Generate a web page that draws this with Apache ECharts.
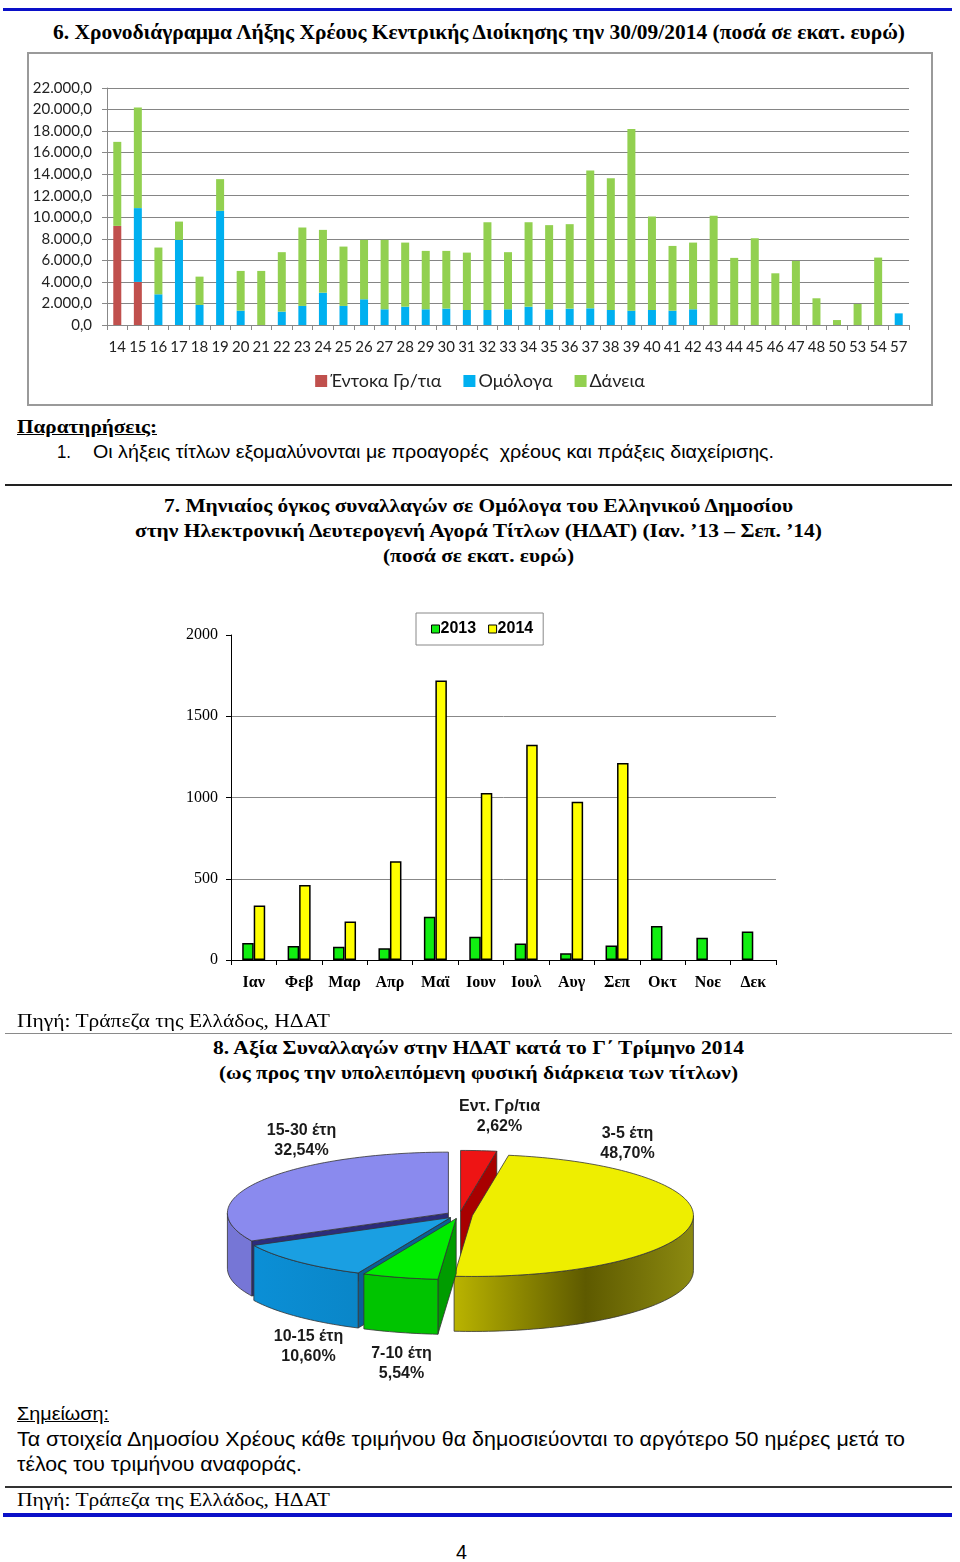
<!DOCTYPE html>
<html>
<head>
<meta charset="utf-8">
<script src="https://cdn.jsdelivr.net/npm/echarts@6.0.0/dist/echarts.min.js"></script>
<style>
body{margin:0;width:960px;height:1562px;position:relative;background:#fff;overflow:hidden}
.t{position:absolute;white-space:nowrap;transform-origin:0 50%;line-height:24px;height:24px;color:#000}
.serif{font-family:"Liberation Serif","DejaVu Serif",serif}
.sans{font-family:"Liberation Sans Narrow","Liberation Sans",Arial,sans-serif}
.b{font-weight:bold}
.u{text-decoration:underline}
.rule{position:absolute}
.chart{position:absolute;left:0;width:960px}
</style>
</head>
<body>

<div class="rule" style="left:3px;top:8px;width:949px;height:3px;background:#0a10c8"></div>
<div class="t serif b" data-x="53" data-y="32" data-w="852" style="font-size:20px">6. Χρονοδιάγραμμα Λήξης Χρέους Κεντρικής Διοίκησης την 30/09/2014 (ποσά σε εκατ. ευρώ)</div>
<div class="rule" style="left:27px;top:52px;width:906px;height:354px;border:2px solid #9a9a9a;box-sizing:border-box"></div>
<div id="chart1" class="chart" style="top:50px;height:360px"></div>

<div class="t serif b u" data-x="17" data-y="427" data-w="140" style="font-size:19px">Παρατηρήσεις:</div>
<div class="t sans" data-x="57" data-y="452" data-w="14" style="font-size:18px">1.</div>
<div class="t sans" data-x="93" data-y="452" data-w="681" style="font-size:18px">Οι λήξεις τίτλων εξομαλύνονται με προαγορές&nbsp; χρέους και πράξεις διαχείρισης.</div>
<div class="rule" style="left:5px;top:484px;width:947px;height:2px;background:#222"></div>

<div class="t serif b" data-x="164" data-y="506" data-w="629" style="font-size:19px">7. Μηνιαίος όγκος συναλλαγών σε Ομόλογα του Ελληνικού Δημοσίου</div>
<div class="t serif b" data-x="135" data-y="531" data-w="687" style="font-size:19px">στην Ηλεκτρονική Δευτερογενή Αγορά Τίτλων (ΗΔΑΤ) (Ιαν. ’13 – Σεπ. ’14)</div>
<div class="t serif b" data-x="383" data-y="556" data-w="191" style="font-size:19px">(ποσά σε εκατ. ευρώ)</div>
<div id="chart2" class="chart" style="top:600px;height:410px"></div>

<div class="t serif" data-x="17" data-y="1021" data-w="313" style="font-size:19px">Πηγή: Τράπεζα της Ελλάδος, ΗΔΑΤ</div>
<div class="rule" style="left:5px;top:1033px;width:947px;height:1px;background:#8a8a8a"></div>
<div class="t serif b" data-x="213" data-y="1048" data-w="531" style="font-size:19px">8. Αξία Συναλλαγών στην ΗΔΑΤ κατά το Γ΄ Τρίμηνο 2014</div>
<div class="t serif b" data-x="219" data-y="1073" data-w="519" style="font-size:19px">(ως προς την υπολειπόμενη φυσική διάρκεια των τίτλων)</div>
<div id="chart3" class="chart" style="top:1090px;height:300px"></div>

<div class="t sans u" data-x="17" data-y="1414" data-w="92" style="font-size:19px">Σημείωση:</div>
<div class="t sans" data-x="17" data-y="1439" data-w="888" style="font-size:21px">Τα στοιχεία Δημοσίου Χρέους κάθε τριμήνου θα δημοσιεύονται το αργότερο 50 ημέρες μετά το</div>
<div class="t sans" data-x="17" data-y="1464" data-w="285" style="font-size:21px">τέλος του τριμήνου αναφοράς.</div>
<div class="rule" style="left:5px;top:1486px;width:947px;height:2px;background:#333"></div>
<div class="t serif" data-x="17" data-y="1500" data-w="313" style="font-size:19px">Πηγή: Τράπεζα της Ελλάδος, ΗΔΑΤ</div>
<div class="rule" style="left:3px;top:1513px;width:949px;height:4px;background:#0a10c8"></div>
<div class="t sans" data-x="456" data-y="1552" data-w="11" style="font-size:21px">4</div>

<script>
// ---- Διάγραμμα 6: λήξεις χρέους ανά έτος (εκατ. ευρώ) ----
var maturityYears = ['14','15','16','17','18','19','20','21','22','23','24','25','26','27','28','29','30','31','32','33',
    '34','35','36','37','38','39','40','41','42','43','44','45','46','47','48','50','53','54','57'];
var entokaVals = [9200,4000,0,0,0,0,0,0,0,0,0,0,0,0,0,0,0,0,0,0,
    0,0,0,0,0,0,0,0,0,0,0,0,0,0,0,0,0,0,0];
var omologaVals = [0,6850,2850,7900,1860,10600,1330,0,1240,1770,3000,1770,2390,1460,1700,1460,1520,1390,1390,1460,
    1700,1460,1520,1550,1390,1330,1390,1330,1460,0,0,0,0,0,0,0,0,0,1080];
var daneiaVals = [7800,9350,4340,1700,2630,2940,3690,5020,5520,7280,5830,5510,5510,6440,5950,5420,5360,5330,8150,5300,
    7840,7810,7840,12800,12240,16860,8680,6010,6190,10130,6230,8060,4800,5950,2480,460,1950,6260,0];
var debtNames = ['Έντοκα Γρ/τια', 'Ομόλογα', 'Δάνεια'];

// ---- Διάγραμμα 7: μηνιαίος όγκος ΗΔΑΤ ----
var months = ['Ιαν','Φεβ','Μαρ','Απρ','Μαϊ','Ιουν','Ιουλ','Αυγ','Σεπ','Οκτ','Νοε','Δεκ'];
var vol2013 = [105, 86, 82, 72, 266, 143, 102, 41, 90, 209, 137, 176];
var vol2014 = [336, 461, 237, 608, 1720, 1028, 1324, 974, 1212, null, null, null];

// ---- Διάγραμμα 8: αξία συναλλαγών Γ΄ τριμήνου ----
var pieNames = ['Εντ. Γρ/τια', '3-5 έτη', '7-10 έτη', '10-15 έτη', '15-30 έτη'];
var pieShares = [2.62, 48.70, 5.54, 10.60, 32.54];

// θέσεις ετικετών (σε σχέση με το κέντρο της πίτας)
var pieLabelOffsets = [[40, -98], [168, -71], [-58, 149], [-151, 132], [-158, -74]];

function grNum(v) {
    var s = v.toFixed(1).split('.');
    return s[0].replace(/\B(?=(\d{3})+(?!\d))/g, '.') + ',' + s[1];
}

var calibri = 'Lato, "Open Sans", sans-serif';

var option1 = {
    animation: false,
    grid: { left: 107, right: 51, top: 38, bottom: 85 },
    legend: {
        top: 317, left: 'center', icon: 'rect', itemWidth: 12, itemHeight: 12, itemGap: 22,
        textStyle: { fontFamily: calibri, fontSize: 18, color: '#222', padding: [0, 0, 0, -2] },
        data: debtNames
    },
    xAxis: {
        type: 'category', data: maturityYears,
        axisLine: { lineStyle: { color: '#888', width: 1 } },
        axisTick: { show: true, length: 5, lineStyle: { color: '#888' } },
        axisLabel: { interval: 0, margin: 15, fontFamily: calibri, fontSize: 15, color: '#222' }
    },
    yAxis: {
        type: 'value', min: 0, max: 22000, interval: 2000,
        axisLine: { show: true, lineStyle: { color: '#888' } },
        axisTick: { show: true, length: 5, lineStyle: { color: '#888' } },
        axisLabel: { margin: 15, fontFamily: calibri, fontSize: 15, color: '#222', formatter: grNum },
        splitLine: { lineStyle: { color: '#858585', width: 1 } }
    },
    series: [
        { name: debtNames[0], type: 'bar', stack: 'd', barWidth: 8, data: entokaVals, itemStyle: { color: '#c0504d' } },
        { name: debtNames[1], type: 'bar', stack: 'd', barWidth: 8, data: omologaVals, itemStyle: { color: '#00b0f0' } },
        { name: debtNames[2], type: 'bar', stack: 'd', barWidth: 8, data: daneiaVals, itemStyle: { color: '#92d050' } }
    ]
};

var times = '"Liberation Serif", "DejaVu Serif", serif';
var option2 = {
    animation: false,
    grid: { left: 231, right: 184, top: 35, bottom: 50 },
    legend: {
        left: 416, top: 13, padding: [8, 10, 8, 15], icon: 'rect', itemWidth: 8, itemHeight: 8, itemGap: 12,
        borderColor: '#888', borderWidth: 1,
        itemStyle: { borderColor: '#000', borderWidth: 1 },
        textStyle: { fontFamily: '"Liberation Sans", Arial, sans-serif', fontWeight: 'bold', fontSize: 16, color: '#000', padding: [0, 0, 0, -4] },
        data: ['2013', '2014']
    },
    xAxis: {
        type: 'category', data: months,
        axisLine: { lineStyle: { color: '#000', width: 1 } },
        axisTick: { show: true, length: 5, lineStyle: { color: '#000' } },
        axisLabel: { interval: 0, margin: 15, fontFamily: times, fontWeight: 'bold', fontSize: 16, color: '#000' }
    },
    yAxis: {
        type: 'value', min: 0, max: 2000, interval: 500,
        axisLine: { show: true, lineStyle: { color: '#000' } },
        axisTick: { show: true, length: 5, lineStyle: { color: '#000' } },
        axisLabel: { margin: 13, fontFamily: times, fontSize: 16, color: '#000', formatter: function (v) { return String(v); } },
        splitLine: { show: true, showMinLine: false, showMaxLine: false, lineStyle: { color: '#888', width: 1 } }
    },
    series: [
        { name: '2013', type: 'bar', barWidth: 11.5, barGap: '0%', data: vol2013,
          itemStyle: { color: '#11ee11', borderColor: '#000', borderWidth: 1.5 } },
        { name: '2014', type: 'bar', barWidth: 11.5, barGap: '0%', data: vol2014,
          itemStyle: { color: '#ffff00', borderColor: '#000', borderWidth: 1.5 } }
    ]
};

// ---- τρισδιάστατη πίτα (custom series) ----
var pieCx = 459.5, pieCy = 125, pieRx = 221, pieRy = 61, pieDepth = 55, pieExplode = 13;
var rad = Math.PI / 180;
var pieTopColor = ['#ee1414', '#eeee00', '#00ec00', '#1a9fe2', '#8a8aee'];
var pieSideColor = [
    '#b00000',
    new echarts.graphic.LinearGradient(0, 0, 1, 0, [
        { offset: 0, color: '#bab400' }, { offset: 0.55, color: '#5e5a00' }, { offset: 1, color: '#8c8a10' }]),
    '#00c400',
    new echarts.graphic.LinearGradient(0, 0, 1, 0, [
        { offset: 0, color: '#0b8fd6' }, { offset: 1, color: '#0a86c8' }]),
    '#7676d6'
];
var pieEdgeColor = ['#a80000', '#a8a400', '#009c00', '#0a5f96', '#2c2c7c'];

var pieTotal = pieShares.reduce(function (s, v) { return s + v; }, 0);
var pieStart = [];
(function () {
    var acc = 0;
    for (var i = 0; i < pieShares.length; i++) { pieStart.push(acc / pieTotal * 360); acc += pieShares[i]; }
})();
function midAngle(i) { return pieStart[i] + pieShares[i] / pieTotal * 180; }
// σειρά σχεδίασης: από πίσω προς τα εμπρός
var drawRank = [];
pieShares.map(function (v, i) { return i; })
    .sort(function (p, q) { return -Math.cos(midAngle(p) * rad) + Math.cos(midAngle(q) * rad); })
    .forEach(function (idx, r) { drawRank[idx] = r; });

function renderSlice(params, api) {
    var i = params.dataIndex;
    var share = api.value(0);
    var a0 = pieStart[i], a1 = a0 + share / pieTotal * 360, mid = (a0 + a1) / 2;
    var ox = pieCx + pieExplode * Math.sin(mid * rad);
    var oy = pieCy - pieExplode * Math.cos(mid * rad) * pieRy / pieRx;
    function P(a, down) { return [ox + pieRx * Math.sin(a * rad), oy - pieRy * Math.cos(a * rad) + (down || 0)]; }
    function arc(s, e, down) {
        var pts = [], n = Math.max(2, Math.ceil((e - s) / 1.5));
        for (var k = 0; k <= n; k++) pts.push(P(s + (e - s) * k / n, down));
        return pts;
    }
    var base = drawRank[i] * 10;
    var line = { stroke: '#333', lineWidth: 0.8 };
    var kids = [];
    function radial(a) {
        return { type: 'polygon', z2: base + 1,
            shape: { points: [[ox, oy], P(a), P(a, pieDepth), [ox, oy + pieDepth]] },
            style: Object.assign({ fill: pieEdgeColor[i] }, line) };
    }
    if (Math.sin(a0 * rad) < -1e-6) kids.push(radial(a0));
    if (Math.sin(a1 * rad) > 1e-6) kids.push(radial(a1));
    var s = Math.max(a0, 90), e = Math.min(a1, 270);
    if (e > s) {
        kids.push({ type: 'polygon', z2: base + 2,
            shape: { points: arc(s, e, 0).concat(arc(s, e, pieDepth).reverse()) },
            style: Object.assign({ fill: pieSideColor[i] }, line) });
    }
    kids.push({ type: 'polygon', z2: base + 5,
        shape: { points: [[ox, oy]].concat(arc(a0, a1, 0)) },
        style: Object.assign({ fill: pieTopColor[i] }, line) });
    var off = pieLabelOffsets[i];
    kids.push({ type: 'text', z2: 500, x: pieCx + off[0], y: pieCy + off[1],
        style: { text: pieNames[i] + '\n' + share.toFixed(2).replace('.', ',') + '%',
            fill: '#1a1a1a', font: 'bold 16px "Liberation Sans", Arial, sans-serif',
            align: 'center', verticalAlign: 'middle', lineHeight: 20 } });
    return { type: 'group', children: kids };
}

var option3 = {
    animation: false,
    series: [{
        type: 'custom', coordinateSystem: 'none',
        renderItem: renderSlice,
        data: pieShares.map(function (v) { return [v]; })
    }]
};

var chart1 = echarts.init(document.getElementById('chart1'));
chart1.setOption(option1);
var chart2 = echarts.init(document.getElementById('chart2'));
chart2.setOption(option2);
var chart3 = echarts.init(document.getElementById('chart3'));
chart3.setOption(option3);

// κείμενα σελίδας: θέση και πλάτος
var texts = document.querySelectorAll('.t');
function placeTexts() {
    for (var k = 0; k < texts.length; k++) {
        var el = texts[k];
        el.style.left = el.dataset.x + 'px';
        el.style.top = (el.dataset.y - 12) + 'px';
        el.style.transform = 'none';
        var w = el.getBoundingClientRect().width;
        el.style.transform = 'scaleX(' + (el.dataset.w / w) + ')';
    }
}
placeTexts();
if (document.fonts && document.fonts.ready) document.fonts.ready.then(placeTexts);
</script>
</body>
</html>
